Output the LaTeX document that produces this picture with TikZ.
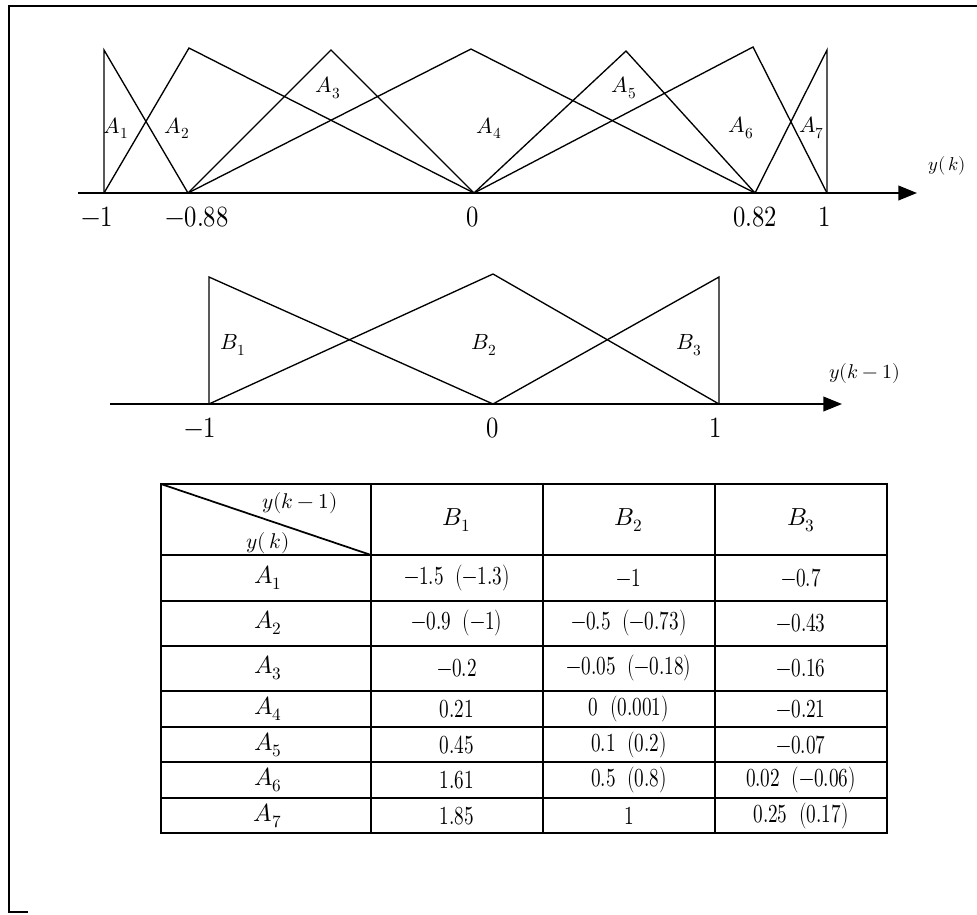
\documentclass[tikz,border=0pt]{standalone}
\usepackage{fontspec}
\usepackage{unicode-math}
\setmathfont{Latin Modern Math}
\usetikzlibrary{arrows.meta}
\newcommand{\cv}[1]{\scalebox{0.74}[1]{#1}}
\newcommand{\tv}[1]{\scalebox{0.84}[1]{#1}}
\tikzset{
  mf/.style={line width=1pt, line join=miter},
  axisline/.style={line width=1.3pt, -{Triangle[length=14pt,width=11pt]}},
  frameline/.style={line width=1.7pt},
  gridline/.style={line width=1pt},
  alabel/.style={inner sep=0pt, font=\fontsize{16.5}{19}\selectfont},
  ticklabel/.style={inner sep=0pt, font=\fontsize{22}{25}\selectfont},
  blabel/.style={inner sep=0pt, font=\fontsize{16.5}{19}\selectfont},
  axlabel/.style={inner sep=0pt, font=\fontsize{14}{16}\selectfont},
  axlabelb/.style={inner sep=0pt, font=\fontsize{15}{18}\selectfont},
  cell/.style={inner sep=0pt, font=\fontsize{19.5}{22}\selectfont},
  acell/.style={inner sep=0pt, font=\fontsize{18.5}{21}\selectfont},
  hcell/.style={inner sep=0pt, font=\fontsize{16}{19}\selectfont},
}
\begin{document}
\begin{tikzpicture}[x=0.75pt,y=-0.75pt]
\useasboundingbox (0,0) rectangle (977,914);
% frame
\coordinate (f1) at (977,6);
\coordinate (f2) at (9,6);
\coordinate (f3) at (9,912);
\coordinate (f4) at (28,912);
\draw[frameline] (f1) -- (f2) -- (f3) -- (f4);

% ---------- top chart ----------
\coordinate (ta0) at (78,193);
\coordinate (ta1) at (917,193);
\coordinate (m1) at (104,193);
\coordinate (m088) at (188,193);
\coordinate (z0) at (474,193);
\coordinate (p082) at (755,193);
\coordinate (p1) at (827,193);
\coordinate (pk1) at (104,50);
\coordinate (pk2) at (189,48);
\coordinate (pk3) at (331,50);
\coordinate (pk4) at (471,49);
\coordinate (pk5) at (626,51);
\coordinate (pk6) at (753,47);
\coordinate (pk7) at (827,50);
\draw[axisline] (ta0) -- (ta1);
\draw[mf] (m1) -- (pk1) -- (m088);
\draw[mf] (m1) -- (pk2) -- (z0);
\draw[mf] (m088) -- (pk3) -- (z0);
\draw[mf] (m088) -- (pk4) -- (p082);
\draw[mf] (z0) -- (pk5) -- (p082);
\draw[mf] (z0) -- (pk6) -- (p1);
\draw[mf] (p082) -- (pk7) -- (p1);
\node[alabel] (la1) at (116,128) {$A_1$};
\node[alabel] (la2) at (177,128) {$A_2$};
\node[alabel] (la3) at (328,88) {$A_3$};
\node[alabel] (la4) at (489,128) {$A_4$};
\node[alabel] (la5) at (624,88) {$A_5$};
\node[alabel] (la6) at (741,128) {$A_6$};
\node[alabel] (la7) at (812,128) {$A_7$};
\node[axlabel] (lyk) at (947,166) {$y(\,k)$};
\node[ticklabel] (t1) at (97,217) {\tv{$-1$}};
\node[ticklabel] (t2) at (197,217) {\tv{$-0.88$}};
\node[ticklabel] (t3) at (473,217) {\tv{$0$}};
\node[ticklabel] (t4) at (755,217) {\tv{$0.82$}};
\node[ticklabel] (t5) at (825,217) {\tv{$1$}};

% ---------- second chart ----------
\coordinate (ba0) at (110,404);
\coordinate (ba1) at (842,404);
\coordinate (bm1) at (209,404);
\coordinate (bz) at (493,404);
\coordinate (bp1) at (719,404);
\coordinate (bk1) at (209,277);
\coordinate (bk2) at (493,274);
\coordinate (bk3) at (719,277);
\draw[axisline] (ba0) -- (ba1);
\draw[mf] (bm1) -- (bk1) -- (bz);
\draw[mf] (bm1) -- (bk2) -- (bp1);
\draw[mf] (bz) -- (bk3) -- (bp1);
\node[blabel] (lb1) at (233,345) {$B_1$};
\node[blabel] (lb2) at (484,345) {$B_2$};
\node[blabel] (lb3) at (689,345) {$B_3$};
\node[axlabelb] (lyk1) at (865,373) {$y(k-1)$};
\node[ticklabel] (s1) at (200,428) {\tv{$-1$}};
\node[ticklabel] (s2) at (493,428) {\tv{$0$}};
\node[ticklabel] (s3) at (716,428) {\tv{$1$}};

% ---------- table ----------
\def\xa{161}\def\xb{371}\def\xc{543}\def\xd{715}\def\xe{887}
\draw[gridline] (\xa,484) rectangle (\xe,833);
\foreach \yy in {555,601,646,691,727,762,798} \draw[gridline] (\xa,\yy) -- (\xe,\yy);
\foreach \xx in {\xb,\xc,\xd} \draw[gridline] (\xx,484) -- (\xx,833);
\coordinate (dg0) at (\xa,484);
\coordinate (dg1) at (\xb,555);
\draw[gridline, line width=1.3pt] (dg0) -- (dg1);
\node[hcell] (h1) at (300,503) {$y(k-1)$};
\node[hcell] (h2) at (268,543) {$y(\,k)$};
\node[acell] (hb1) at (457,520) {$B_1$};
\node[acell] (hb2) at (629,520) {$B_2$};
\node[acell] (hb3) at (801,520) {$B_3$};
% rows
\node[acell] (r1a) at (268,578) {$A_1$};
\node[cell] (r1b) at (457,578) {\cv{$-1.5\ \ (-1.3)$}};
\node[cell] (r1c) at (629,578) {\cv{$-1$}};
\node[cell] (r1d) at (801,578) {\cv{$-0.7$}};
\node[acell] (r2a) at (268,623) {$A_2$};
\node[cell] (r2b) at (457,623) {\cv{$-0.9\ \ (-1)$}};
\node[cell] (r2c) at (629,623) {\cv{$-0.5\ \ (-0.73)$}};
\node[cell] (r2d) at (801,623) {\cv{$-0.43$}};
\node[acell] (r3a) at (268,668) {$A_3$};
\node[cell] (r3b) at (457,668) {\cv{$-0.2$}};
\node[cell] (r3c) at (629,668) {\cv{$-0.05\ \ (-0.18)$}};
\node[cell] (r3d) at (801,668) {\cv{$-0.16$}};
\node[acell] (r4a) at (268,709) {$A_4$};
\node[cell] (r4b) at (457,709) {\cv{$0.21$}};
\node[cell] (r4c) at (629,709) {\cv{$0\ \ (0.001)$}};
\node[cell] (r4d) at (801,709) {\cv{$-0.21$}};
\node[acell] (r5a) at (268,745) {$A_5$};
\node[cell] (r5b) at (457,745) {\cv{$0.45$}};
\node[cell] (r5c) at (629,745) {\cv{$0.1\ \ (0.2)$}};
\node[cell] (r5d) at (801,745) {\cv{$-0.07$}};
\node[acell] (r6a) at (268,780) {$A_6$};
\node[cell] (r6b) at (457,780) {\cv{$1.61$}};
\node[cell] (r6c) at (629,780) {\cv{$0.5\ \ (0.8)$}};
\node[cell] (r6d) at (801,780) {\cv{$0.02\ \ (-0.06)$}};
\node[acell] (r7a) at (268,816) {$A_7$};
\node[cell] (r7b) at (457,816) {\cv{$1.85$}};
\node[cell] (r7c) at (629,816) {\cv{$1$}};
\node[cell] (r7d) at (801,816) {\cv{$0.25\ \ (0.17)$}};
\end{tikzpicture}
\end{document}
